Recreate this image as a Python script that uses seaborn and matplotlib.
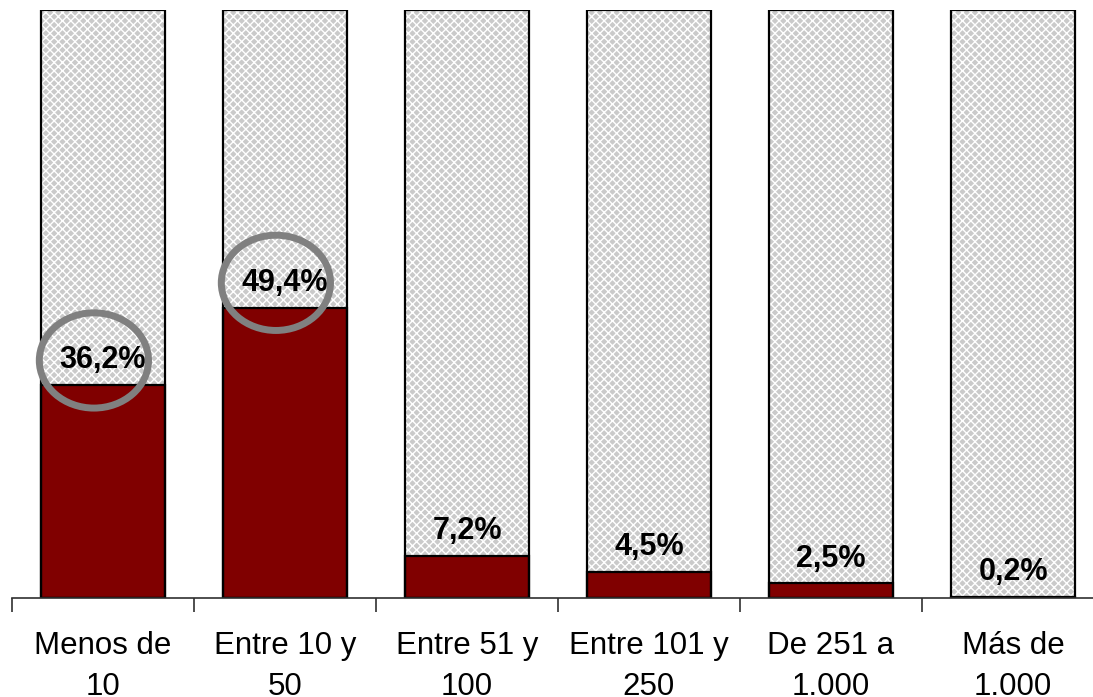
import matplotlib
matplotlib.use("Agg")
import matplotlib.pyplot as plt
import seaborn as sns
import numpy as np
import pandas as pd
from matplotlib.patches import Ellipse
from matplotlib.ticker import FixedLocator

categories = ["Menos de\n10", "Entre 10 y\n50", "Entre 51 y\n100", "Entre 101 y\n250", "De 251 a\n1.000", "Más de\n1.000"]
values = [36.2, 49.4, 7.2, 4.5, 2.5, 0.2]
labels = ["36,2%", "49,4%", "7,2%", "4,5%", "2,5%", "0,2%"]
total = [100, 100, 100, 100, 100, 100]
highlighted = [0, 1]

sns.set_theme(style="white")
plt.rcParams['font.family'] = ['Liberation Sans', 'DejaVu Sans']
plt.rcParams['hatch.linewidth'] = 1.0

W, H = 1093, 697
fig = plt.figure(figsize=(W / 100, H / 100), dpi=100)
ax = fig.add_axes([12 / W, (H - 598) / H, 1092 / W, 588 / H])

df = pd.DataFrame({"cat": categories, "total": total, "value": values})
bw = 0.676

# hatched background (full bar)
sns.barplot(data=df, x="cat", y="total", color="#cacaca", width=bw,
            edgecolor="white", linewidth=0, hatch="xxxx", saturation=1, ax=ax)
n_bg = len(ax.patches)
# red portion
sns.barplot(data=df, x="cat", y="value", color="#800000", width=bw,
            edgecolor="black", linewidth=1.6, saturation=1, ax=ax)
# outlines for full bars
sns.barplot(data=df, x="cat", y="total", color="none", width=bw, fill=False,
            edgecolor="black", linewidth=1.6, saturation=1, ax=ax)
for p in ax.patches[:n_bg]:
    p.set_facecolor("#cacaca")
    p.set_edgecolor("white")
    p.set_hatch("xxxx")
    p.set_linewidth(0)

ax.set_xlim(-0.5, len(categories) - 0.5)
ax.set_ylim(0, 100)
ax.set_xlabel("")
ax.set_ylabel("")
ax.set_yticks([])

for i, (v, lab) in enumerate(zip(values, labels)):
    ax.annotate(lab, (i, v), xytext=(0, 7), textcoords="offset points",
                ha="center", va="bottom", fontsize=22, fontweight="bold",
                color="black")

for i in highlighted:
    e = Ellipse((i - 0.05, values[i] + 4.2), width=0.6, height=16.2,
                fill=False, edgecolor="#808080", linewidth=5, zorder=5)
    ax.add_patch(e)

for s in ["top", "right", "left"]:
    ax.spines[s].set_visible(False)
ax.spines["bottom"].set_color("#303030")
ax.spines["bottom"].set_linewidth(1.2)

ax.tick_params(axis="x", which="major", length=0, pad=24, labelsize=22.5,
               labelcolor="black")
ax.xaxis.set_minor_locator(FixedLocator(np.arange(-0.5, len(categories), 1.0)))
ax.tick_params(axis="x", which="minor", length=10, width=1.2, color="#303030",
               direction="out", bottom=True)
for t in ax.get_xticklabels():
    t.set_linespacing(1.45)

fig.savefig("out.png", dpi=100)
